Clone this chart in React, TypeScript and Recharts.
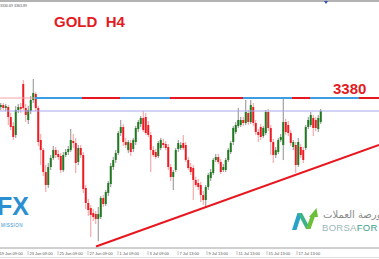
import React from 'react';
import { ComposedChart, Bar, XAxis, YAxis, ReferenceLine } from 'recharts';

// XAUUSD H4 candles (oldest first)
const opens = [
  3371, 3373, 3370, 3371, 3361, 3352, 3343, 3368, 3371, 3394,
  3370, 3358, 3367, 3378, 3384, 3370, 3338, 3328, 3306, 3293,
  3311, 3320, 3328, 3324, 3322, 3308, 3323, 3326, 3328, 3337,
  3335, 3316, 3330, 3323, 3290, 3275, 3270, 3265, 3264, 3259,
  3261, 3280, 3274, 3285, 3294, 3311, 3318, 3325, 3345, 3351,
  3336, 3328, 3335, 3329, 3336, 3349, 3354, 3360, 3361, 3353,
  3343, 3328, 3326, 3322, 3330, 3335, 3334, 3331, 3311, 3301,
  3308, 3329, 3330, 3335, 3333, 3318, 3311, 3310, 3298, 3295,
  3293, 3283, 3278, 3291, 3300, 3305, 3318, 3321, 3316, 3308,
  3308, 3318, 3326, 3336, 3346, 3352, 3353, 3358, 3355, 3365,
  3356, 3371, 3355, 3346, 3351, 3342, 3345, 3366, 3350, 3336,
  3323, 3326, 3338, 3333, 3356, 3353, 3345, 3331, 3333, 3313,
  3331, 3328, 3330, 3351, 3353, 3360, 3358, 3349, 3356,
];
const highs = [
  3375, 3375, 3374, 3373, 3365, 3356, 3372, 3374, 3375, 3398,
  3374, 3372, 3382, 3399, 3386, 3372, 3344, 3330, 3313, 3315,
  3323, 3332, 3331, 3328, 3325, 3326, 3329, 3332, 3349, 3344,
  3340, 3333, 3333, 3326, 3293, 3279, 3273, 3269, 3267, 3271,
  3282, 3283, 3288, 3297, 3315, 3321, 3328, 3347, 3358, 3354,
  3340, 3338, 3338, 3340, 3352, 3358, 3362, 3367, 3365, 3357,
  3346, 3332, 3329, 3337, 3340, 3339, 3337, 3334, 3314, 3308,
  3330, 3338, 3336, 3343, 3336, 3321, 3315, 3313, 3301, 3299,
  3296, 3287, 3293, 3305, 3309, 3320, 3324, 3324, 3319, 3314,
  3320, 3330, 3337, 3352, 3356, 3370, 3361, 3361, 3378, 3368,
  3378, 3375, 3358, 3349, 3354, 3352, 3368, 3369, 3353, 3339,
  3331, 3340, 3344, 3381, 3359, 3357, 3348, 3338, 3336, 3340,
  3334, 3331, 3353, 3361, 3366, 3363, 3361, 3363, 3369,
];
const lows = [
  3368, 3368, 3367, 3353, 3348, 3338, 3340, 3365, 3365, 3368,
  3356, 3354, 3364, 3375, 3367, 3332, 3313, 3302, 3286, 3290,
  3308, 3318, 3320, 3318, 3305, 3306, 3321, 3323, 3326, 3330,
  3305, 3313, 3320, 3285, 3269, 3262, 3241, 3257, 3254, 3237,
  3259, 3271, 3272, 3282, 3291, 3308, 3315, 3323, 3342, 3332,
  3330, 3325, 3322, 3326, 3333, 3346, 3351, 3346, 3343, 3341,
  3306, 3321, 3319, 3320, 3328, 3330, 3328, 3308, 3297, 3288,
  3306, 3326, 3328, 3328, 3316, 3308, 3303, 3278, 3291, 3288,
  3276, 3273, 3271, 3288, 3297, 3303, 3316, 3314, 3304, 3306,
  3306, 3316, 3324, 3333, 3344, 3350, 3351, 3352, 3353, 3353,
  3354, 3352, 3343, 3336, 3338, 3340, 3343, 3347, 3323, 3315,
  3320, 3324, 3336, 3318, 3343, 3342, 3332, 3328, 3305, 3311,
  3320, 3315, 3328, 3349, 3351, 3342, 3347, 3346, 3354,
];
const closes = [
  3373, 3370, 3372, 3361, 3351, 3341, 3368, 3371, 3369, 3370,
  3363, 3368, 3378, 3385, 3370, 3336, 3328, 3306, 3293, 3311,
  3320, 3328, 3323, 3321, 3308, 3323, 3326, 3329, 3338, 3335,
  3315, 3330, 3323, 3289, 3275, 3268, 3263, 3261, 3259, 3264,
  3280, 3274, 3286, 3295, 3312, 3318, 3325, 3345, 3351, 3336,
  3333, 3336, 3326, 3338, 3350, 3356, 3360, 3348, 3345, 3343,
  3328, 3323, 3321, 3335, 3338, 3333, 3330, 3311, 3301, 3306,
  3328, 3335, 3333, 3330, 3318, 3310, 3306, 3298, 3293, 3291,
  3283, 3278, 3291, 3303, 3306, 3318, 3321, 3316, 3306, 3311,
  3318, 3328, 3335, 3350, 3353, 3358, 3358, 3355, 3366, 3356,
  3373, 3355, 3346, 3343, 3341, 3350, 3366, 3350, 3336, 3323,
  3328, 3338, 3341, 3356, 3346, 3345, 3335, 3336, 3313, 3336,
  3323, 3318, 3351, 3358, 3363, 3350, 3350, 3360, 3367,
];

// time axis labels sit at bar positions
const tickIdx = [-1.2, 10.8, 22.8, 34.8, 46.8, 58.8, 70.8, 82.4, 94.4, 106.4, 118.4];
const tickLabels = [
  '19 Jun 09:00', '23 Jun 09:00', '25 Jun 09:00', '27 Jun 09:00', '1 Jul 09:00', '3 Jul 09:00',
  '7 Jul 13:00', '9 Jul 13:00', '11 Jul 13:00', '15 Jul 13:00', '17 Jul 13:00',
];

const resistance = 3380;
const bidPrice = 3367;
const trendFrom = { x: 38, y: 3231.5 };
const trendTo = { x: 151.2, y: 3333 };
const resistanceStart = 13.6;
const blueRuns = [[13.6, 32.4], [47.6, 67.6], [96.8, 116.4], [123.6, 143.2]];

const X_DOMAIN: [number, number] = [-0.4, 151.2];
const Y_DOMAIN: [number, number] = [3230, 3473];
const FONT = 'Liberation Sans, Arial, sans-serif';

const candles = opens.map((open, i) => ({
  i,
  open,
  high: highs[i],
  low: lows[i],
  close: closes[i],
}));

const Candle = (props: any) => {
  const { x, y, width, height, payload } = props;
  if (!payload) return null;
  const { open, close, high, low } = payload;
  const up = close >= open;
  const top = Math.min(y, y + height);
  const h = Math.abs(height);
  const k = h / (high - low || 1);
  const cx = x + width / 2;
  const bodyTop = top + (high - Math.max(open, close)) * k;
  const bodyH = Math.max(1, Math.abs(open - close) * k);
  return (
    <g>
      <line x1={cx} x2={cx} y1={top} y2={top + h} stroke={up ? '#8e8e8e' : '#f39a9a'} strokeWidth={1} />
      <rect x={cx - 1} y={bodyTop} width={2} height={bodyH} fill={up ? '#1f7a1f' : '#ec1c24'} />
    </g>
  );
};

const TimeTick = (props: any) => {
  const { x, y, payload } = props;
  let k = 0;
  tickIdx.forEach((t, j) => {
    if (Math.abs(t - payload.value) < Math.abs(tickIdx[k] - payload.value)) k = j;
  });
  return (
    <g>
      <line x1={x} x2={x} y1={y + 3} y2={y + 7} stroke="#c4c4c4" strokeWidth={1} />
      <text x={x + 1.5} y={y + 7} fontSize={4} fill="#555" fontFamily={FONT}>
        {tickLabels[k]}
      </text>
    </g>
  );
};

export default function App() {
  return (
    <div style={{ position: 'fixed', left: 0, top: 0, width: 379, height: 259, background: '#fff' }}>
      <ComposedChart width={379} height={259} data={candles} margin={{ top: 5, right: 0, bottom: 0, left: 0 }}>
        <XAxis
          type="number"
          dataKey="i"
          domain={X_DOMAIN}
          allowDataOverflow
          ticks={tickIdx}
          interval={0}
          tickSize={0}
          tickMargin={0}
          height={11}
          tick={<TimeTick />}
          axisLine={{ stroke: '#a0a0a0' }}
        />
        <YAxis hide domain={Y_DOMAIN} allowDataOverflow />
        <ReferenceLine y={bidPrice} stroke="#a6a6ec" strokeWidth={1} />
        <Bar
          dataKey={(d: any) => [d.low, d.high]}
          barSize={2}
          shape={(p: any) => <Candle {...p} />}
          isAnimationActive={false}
        />
        <ReferenceLine
          segment={[{ x: X_DOMAIN[0], y: resistance }, { x: resistanceStart, y: resistance }]}
          stroke="#f4a4a4"
          strokeWidth={1}
          ifOverflow="visible"
        />
        <ReferenceLine
          segment={[{ x: resistanceStart, y: resistance }, { x: X_DOMAIN[1], y: resistance }]}
          stroke="#e8161e"
          strokeWidth={2}
          ifOverflow="visible"
        />
        {blueRuns.map(([a, b]) => (
          <ReferenceLine
            key={a}
            segment={[{ x: a, y: resistance }, { x: b, y: resistance }]}
            stroke="#3d9de2"
            strokeWidth={2}
            ifOverflow="visible"
          />
        ))}
        <ReferenceLine segment={[trendFrom, trendTo]} stroke="#e8161e" strokeWidth={2} ifOverflow="visible" />
      </ComposedChart>

      <svg
        width={379}
        height={259}
        style={{ position: 'absolute', left: 0, top: 0, pointerEvents: 'none' }}
        fontFamily={FONT}
      >
        <rect x={0} y={0} width={379} height={2} fill="#b2b2b2" />
        <polygon points="324,1 328,1 326,4" fill="#2c4fc4" />
        <text x={0} y={6.5} fontSize={3.6} fill="#555">3330.69 3363.89</text>
        <text x={54} y={27} fontSize={15} fontWeight="bold" fill="#e31b23" style={{ whiteSpace: 'pre' }}>
          GOLD  H4
        </text>
        <text x={333} y={94} fontSize={15} fontWeight="bold" fill="#e31b23">3380</text>

        {/* left watermark */}
        <text x={-3} y={215} fontSize={25} fontWeight="bold" fill="#2b8fd1">FX</text>
        <text x={1} y={227} fontSize={4.5} fill="#2b8fd1" letterSpacing={0.4}>MISSION</text>

        {/* right watermark */}
        <polygon points="292,230 296.5,230 302,213 297.5,213" fill="#27a2c9" />
        <polygon points="297.5,213 302,213 310.5,229 306,229" fill="#3db38c" />
        <polygon points="306,229 310.5,229 315.5,215 311,215" fill="#6cbf3a" />
        <polygon points="309,217 318,217 316.5,208" fill="#6cbf3a" />
        <text x={323} y={218} fontSize={10} fill="#8a8a8a" fontFamily="DejaVu Sans, sans-serif">
          بورصة العملات
        </text>
        <text x={322} y={231} fontSize={9.5} letterSpacing={0.3}>
          <tspan fill="#9bb8b8">BORSA</tspan>
          <tspan fill="#3b9e8e">FOR</tspan>
        </text>
        <rect x={0} y={257} width={379} height={1} fill="#dedede" />
      </svg>
    </div>
  );
}
